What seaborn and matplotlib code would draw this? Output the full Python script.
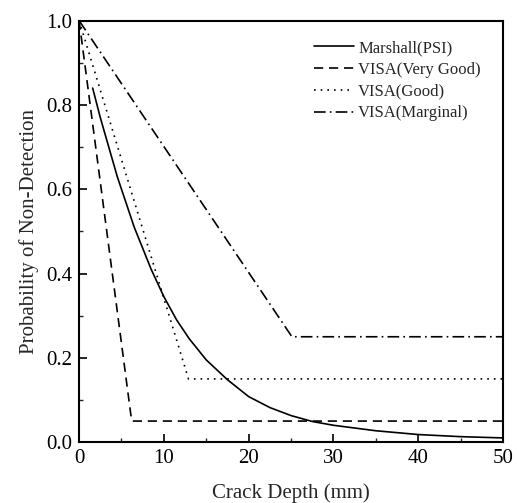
import matplotlib
matplotlib.use("Agg")
import matplotlib.pyplot as plt
import seaborn as sns
import pandas as pd
from matplotlib.ticker import MultipleLocator

# Data
marshall_x = [1.6, 2.5, 3.5, 4.5, 5.5, 6.5, 7.5, 8.5, 10, 11.5, 13, 15, 17.5, 20, 22.5, 25, 27.5, 30, 35, 40, 45, 50]
marshall_y = [0.84, 0.77, 0.70, 0.63, 0.57, 0.51, 0.46, 0.41, 0.345, 0.29, 0.245, 0.195, 0.148, 0.108, 0.082, 0.063, 0.049, 0.04, 0.027, 0.018, 0.013, 0.01]
vg_x = [0, 6.2, 50]
vg_y = [1.0, 0.05, 0.05]
good_x = [0, 12.9, 50]
good_y = [1.0, 0.15, 0.15]
marg_x = [0, 25.1, 50]
marg_y = [1.0, 0.25, 0.25]
labels = ["Marshall(PSI)", "VISA(Very Good)", "VISA(Good)", "VISA(Marginal)"]
xticks = [0, 10, 20, 30, 40, 50]
yticks = [0.0, 0.2, 0.4, 0.6, 0.8, 1.0]

sns.set_style("ticks")
plt.rcParams["font.family"] = ["Liberation Serif", "DejaVu Serif"]

fig = plt.figure(figsize=(5.17, 5.03), dpi=100)
ax = fig.add_axes([0.153, 0.121, 0.820, 0.838])

series = [
    (marshall_x, marshall_y, labels[0], "-"),
    (vg_x, vg_y, labels[1], (0, (5.5, 3.5))),
    (good_x, good_y, labels[2], (0, (1, 3))),
    (marg_x, marg_y, labels[3], (0, (7, 2.5, 1, 2.5))),
]
for xs, ys, lab, ls in series:
    df = pd.DataFrame({"x": xs, "y": ys})
    sns.lineplot(data=df, x="x", y="y", ax=ax, color="black", linestyle=ls,
                 linewidth=1.2, label=lab, sort=False, estimator=None)

ax.set_xlim(0, 50)
ax.set_ylim(0, 1.0)
ax.set_xticks(xticks)
ax.set_xticklabels([f"{v:d}" for v in xticks])
ax.set_yticks(yticks)
ax.set_yticklabels([f"{v:.1f}" for v in yticks])
ax.xaxis.set_minor_locator(MultipleLocator(5))
ax.yaxis.set_minor_locator(MultipleLocator(0.1))
ax.tick_params(which="major", direction="in", length=6, width=1.2, labelsize=15, colors="black", pad=5)
ax.tick_params(which="minor", direction="in", length=3, width=1.0)
ax.tick_params(top=False, right=False, which="both")
for s in ax.spines.values():
    s.set_linewidth(1.5)
    s.set_color("black")

ax.set_xlabel("Crack Depth (mm)", fontsize=15, labelpad=11)
ax.set_ylabel("Probability of Non-Detection", fontsize=15, labelpad=5)

leg = ax.legend(loc="upper right", frameon=False, fontsize=12, handlelength=2.4,
                handletextpad=0.25, labelspacing=0.35, bbox_to_anchor=(0.971, 0.978),
                borderaxespad=0.2)

fig.savefig("out.png", dpi=100)
